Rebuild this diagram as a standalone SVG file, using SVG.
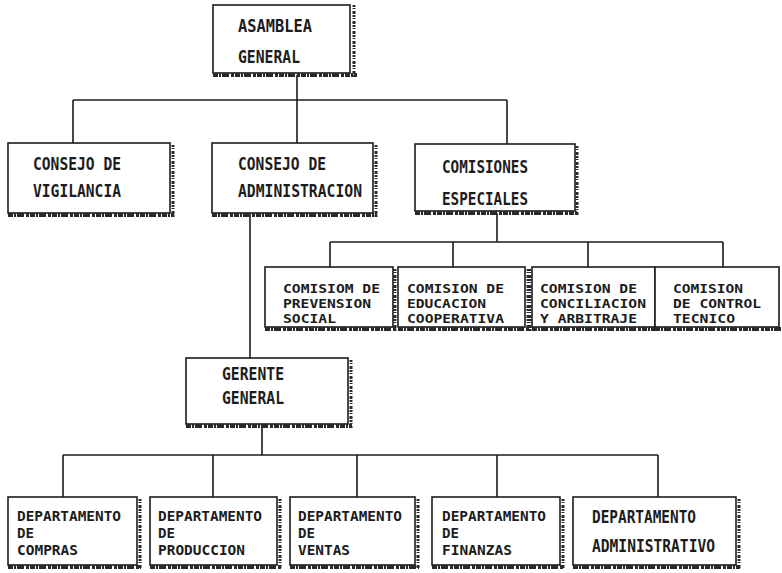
<svg xmlns="http://www.w3.org/2000/svg" width="782" height="573" viewBox="0 0 782 573">
<style>
.box{fill:#fff;stroke:#1c1c1c;stroke-width:1.6}
.sb{stroke:#2a2a2a;stroke-width:4;stroke-dasharray:5 1 2 1 7 2 3 1}
.sr{stroke:#2a2a2a;stroke-width:3;stroke-dasharray:2 1 1 2 3 1}
.t{font-family:"DejaVu Sans Mono","Liberation Mono",monospace;font-size:17px;font-weight:bold;fill:#1c1c1c}
.d{font-family:"DejaVu Sans Mono","Liberation Mono",monospace;font-size:14.4px;font-weight:bold;fill:#1c1c1c}
.s{font-family:"DejaVu Sans Mono","Liberation Mono",monospace;font-size:12.8px;font-weight:bold;fill:#1c1c1c}
.c{fill:none;stroke:#1c1c1c;stroke-width:1.6}
</style>
<rect width="782" height="573" fill="#fff"/>
<g id="connectors" class="c">
<path d="M297 75V143M73 100H507M73 100V143M507 100V144"/>
<path d="M497 213V242M330 242H723M330 242V267M453 242V267M588 242V267M723 242V267"/>
<path d="M250 213V358"/>
<path d="M262 424V455M63 455H658M63 455V497M213 455V497M357 455V497M497 455V497M658 455V497"/>
</g>
<g id="asamblea">
<rect class="box" x="213" y="5" width="137" height="68"/>
<line class="sb" x1="213" y1="75" x2="357" y2="75"/><line class="sr" x1="354" y1="5" x2="354" y2="77"/>
<text class="t" x="238" y="32" textLength="74" lengthAdjust="spacingAndGlyphs">ASAMBLEA</text>
<text class="t" x="238" y="63" textLength="62" lengthAdjust="spacingAndGlyphs">GENERAL</text>
</g>
<g id="vigilancia">
<rect class="box" x="8" y="143" width="162" height="70"/>
<line class="sb" x1="8" y1="215" x2="174" y2="215"/><line class="sr" x1="173" y1="145" x2="173" y2="217"/>
<text class="t" x="33" y="170" textLength="88" lengthAdjust="spacingAndGlyphs">CONSEJO DE</text>
<text class="t" x="33" y="197" textLength="88" lengthAdjust="spacingAndGlyphs">VIGILANCIA</text>
</g>
<g id="administracion">
<rect class="box" x="212" y="143" width="161" height="70"/>
<line class="sb" x1="212" y1="215" x2="377" y2="215"/><line class="sr" x1="376" y1="145" x2="376" y2="217"/>
<text class="t" x="238" y="170" textLength="88" lengthAdjust="spacingAndGlyphs">CONSEJO DE</text>
<text class="t" x="238" y="197" textLength="124" lengthAdjust="spacingAndGlyphs">ADMINISTRACION</text>
</g>
<g id="comisiones">
<rect class="box" x="415" y="144" width="160" height="67"/>
<line class="sb" x1="415" y1="213" x2="578" y2="213"/><line class="sr" x1="577" y1="146" x2="577" y2="215"/>
<text class="t" x="442" y="173" textLength="86" lengthAdjust="spacingAndGlyphs">COMISIONES</text>
<text class="t" x="442" y="205" textLength="86" lengthAdjust="spacingAndGlyphs">ESPECIALES</text>
</g>
<g id="prevension">
<rect class="box" x="265" y="267" width="128" height="60"/>
<line class="sb" x1="265" y1="329" x2="397" y2="329"/><line class="sr" x1="395" y1="269" x2="395" y2="331"/>
<text class="s" x="283" y="293" textLength="97" lengthAdjust="spacingAndGlyphs">COMISIOM DE</text>
<text class="s" x="283" y="308" textLength="88" lengthAdjust="spacingAndGlyphs">PREVENSION</text>
<text class="s" x="283" y="323" textLength="53" lengthAdjust="spacingAndGlyphs">SOCIAL</text>
</g>
<g id="educacion">
<rect class="box" x="398" y="267" width="127" height="60"/>
<line class="sb" x1="398" y1="329" x2="530" y2="329"/><line class="sr" x1="528" y1="269" x2="528" y2="331"/>
<text class="s" x="407" y="293" textLength="97" lengthAdjust="spacingAndGlyphs">COMISION DE</text>
<text class="s" x="407" y="308" textLength="79" lengthAdjust="spacingAndGlyphs">EDUCACION</text>
<text class="s" x="407" y="323" textLength="97" lengthAdjust="spacingAndGlyphs">COOPERATIVA</text>
</g>
<g id="conciliacion">
<rect class="box" x="532" y="267" width="123" height="60"/>
<line class="sb" x1="532" y1="329" x2="656" y2="329"/><line class="sr" x1="530" y1="269" x2="530" y2="331"/>
<text class="s" x="540" y="293" textLength="97" lengthAdjust="spacingAndGlyphs">COMISION DE</text>
<text class="s" x="540" y="308" textLength="106" lengthAdjust="spacingAndGlyphs">CONCILIACION</text>
<text class="s" x="540" y="323" textLength="97" lengthAdjust="spacingAndGlyphs">Y ARBITRAJE</text>
</g>
<g id="control">
<rect class="box" x="655" y="267" width="124" height="60"/>
<line class="sb" x1="655" y1="329" x2="782" y2="329"/>
<text class="s" x="673" y="293" textLength="70" lengthAdjust="spacingAndGlyphs">COMISION</text>
<text class="s" x="673" y="308" textLength="88" lengthAdjust="spacingAndGlyphs">DE CONTROL</text>
<text class="s" x="673" y="323" textLength="62" lengthAdjust="spacingAndGlyphs">TECNICO</text>
</g>
<g id="gerente">
<rect class="box" x="186" y="358" width="162" height="66"/>
<line class="sb" x1="186" y1="426" x2="352" y2="426"/><line class="sr" x1="351" y1="360" x2="351" y2="428"/>
<text class="t" x="222" y="380" textLength="62" lengthAdjust="spacingAndGlyphs">GERENTE</text>
<text class="t" x="222" y="404" textLength="62" lengthAdjust="spacingAndGlyphs">GENERAL</text>
</g>
<g id="compras">
<rect class="box" x="8" y="497" width="129" height="68"/>
<line class="sb" x1="8" y1="567" x2="141" y2="567"/><line class="sr" x1="140" y1="499" x2="140" y2="569"/>
<text class="d" x="17" y="521" textLength="104" lengthAdjust="spacingAndGlyphs">DEPARTAMENTO</text>
<text class="d" x="17" y="538" textLength="17" lengthAdjust="spacingAndGlyphs">DE</text>
<text class="d" x="17" y="555" textLength="61" lengthAdjust="spacingAndGlyphs">COMPRAS</text>
</g>
<g id="produccion">
<rect class="box" x="150" y="497" width="127" height="68"/>
<line class="sb" x1="150" y1="567" x2="281" y2="567"/><line class="sr" x1="280" y1="499" x2="280" y2="569"/>
<text class="d" x="158" y="521" textLength="104" lengthAdjust="spacingAndGlyphs">DEPARTAMENTO</text>
<text class="d" x="158" y="538" textLength="17" lengthAdjust="spacingAndGlyphs">DE</text>
<text class="d" x="158" y="555" textLength="87" lengthAdjust="spacingAndGlyphs">PRODUCCION</text>
</g>
<g id="ventas">
<rect class="box" x="290" y="497" width="125" height="68"/>
<line class="sb" x1="290" y1="567" x2="419" y2="567"/><line class="sr" x1="418" y1="499" x2="418" y2="569"/>
<text class="d" x="298" y="521" textLength="104" lengthAdjust="spacingAndGlyphs">DEPARTAMENTO</text>
<text class="d" x="298" y="538" textLength="17" lengthAdjust="spacingAndGlyphs">DE</text>
<text class="d" x="298" y="555" textLength="52" lengthAdjust="spacingAndGlyphs">VENTAS</text>
</g>
<g id="finanzas">
<rect class="box" x="432" y="497" width="128" height="68"/>
<line class="sb" x1="432" y1="567" x2="564" y2="567"/><line class="sr" x1="563" y1="499" x2="563" y2="569"/>
<text class="d" x="442" y="521" textLength="104" lengthAdjust="spacingAndGlyphs">DEPARTAMENTO</text>
<text class="d" x="442" y="538" textLength="17" lengthAdjust="spacingAndGlyphs">DE</text>
<text class="d" x="442" y="555" textLength="70" lengthAdjust="spacingAndGlyphs">FINANZAS</text>
</g>
<g id="administrativo">
<rect class="box" x="573" y="497" width="163" height="68"/>
<line class="sb" x1="573" y1="567" x2="740" y2="567"/><line class="sr" x1="739" y1="499" x2="739" y2="569"/>
<text class="t" x="592" y="523" textLength="104" lengthAdjust="spacingAndGlyphs">DEPARTAMENTO</text>
<text class="t" x="592" y="552" textLength="123" lengthAdjust="spacingAndGlyphs">ADMINISTRATIVO</text>
</g>
</svg>
